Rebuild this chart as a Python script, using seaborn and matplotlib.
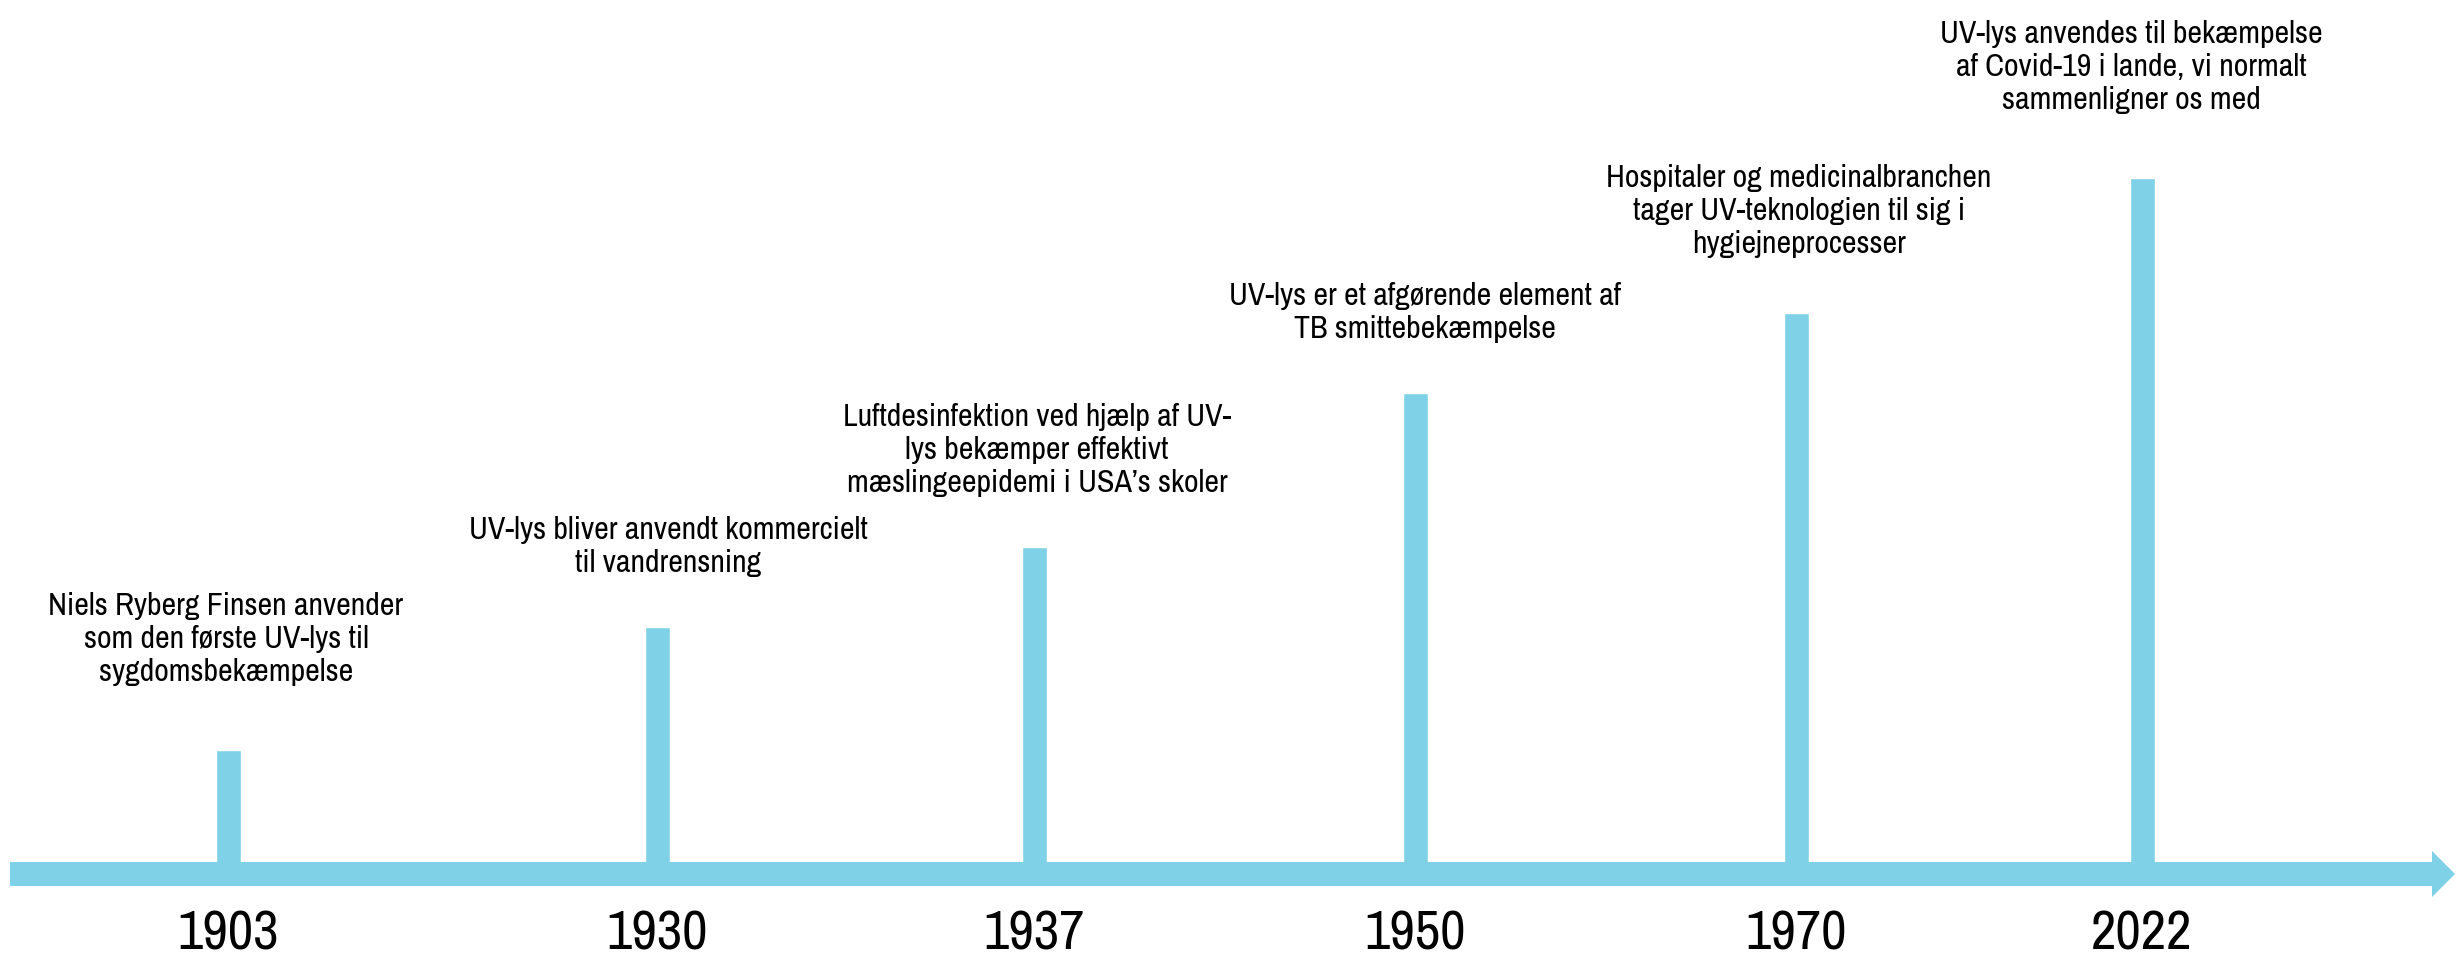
import numpy as np
import pandas as pd
import matplotlib
matplotlib.use("Agg")
import matplotlib.pyplot as plt
import seaborn as sns

years = ["1903", "1930", "1937", "1950", "1970", "2022"]
heights = [124, 247, 327, 481, 561, 696]
events = [
    "Niels Ryberg Finsen anvender\nsom den første UV-lys til\nsygdomsbekæmpelse",
    "UV-lys bliver anvendt kommercielt\ntil vandrensning",
    "Luftdesinfektion ved hjælp af UV-\nlys bekæmper effektivt\nmæslingeepidemi i USA’s skoler",
    "UV-lys er et afgørende element af\nTB smittebekæmpelse",
    "Hospitaler og medicinalbranchen\ntager UV-teknologien til sig i\nhygiejneprocesser",
    "UV-lys anvendes til bekæmpelse\naf Covid-19 i lande, vi normalt\nsammenligner os med",
]

# layout (figure pixels)
bar_x = [228, 657, 1034, 1415, 1796, 2142]
text_dx = [-2, 11, 3, 10, 3, -11]
text_gap = [64, 50, 50, 50, 55, 64]
base_y = 85
blue = "#7fd1e8"

sns.set_theme(style="white")
plt.rcParams["font.family"] = ["Archivo Narrow", "Liberation Sans", "DejaVu Sans"]

df = pd.DataFrame({"x": bar_x, "height": heights, "year": years})

fig = plt.figure(figsize=(24.64, 9.59), dpi=100)
ax = fig.add_axes([0, 0, 1, 1])

spacing = np.min(np.diff(sorted(bar_x)))
sns.barplot(data=df, x="x", y="height", native_scale=True, width=25 / spacing,
            color=blue, saturation=1, bottom=base_y, ax=ax, zorder=2)

ax.arrow(10, base_y, 2445, 0, width=24, head_width=46, head_length=23,
         length_includes_head=True, color=blue, linewidth=0, zorder=3)

for x, h, yr, txt, dx, gap in zip(bar_x, heights, years, events, text_dx, text_gap):
    ax.text(x, 24, yr, ha="center", va="center", fontsize=40, color="black")
    ax.text(x + dx, base_y + h + gap, txt, ha="center", va="bottom",
            fontsize=23, color="black", linespacing=1.22)

ax.set_xlim(0, 2464)
ax.set_ylim(0, 959)
ax.axis("off")

fig.savefig("out.png", dpi=100, facecolor="white")
